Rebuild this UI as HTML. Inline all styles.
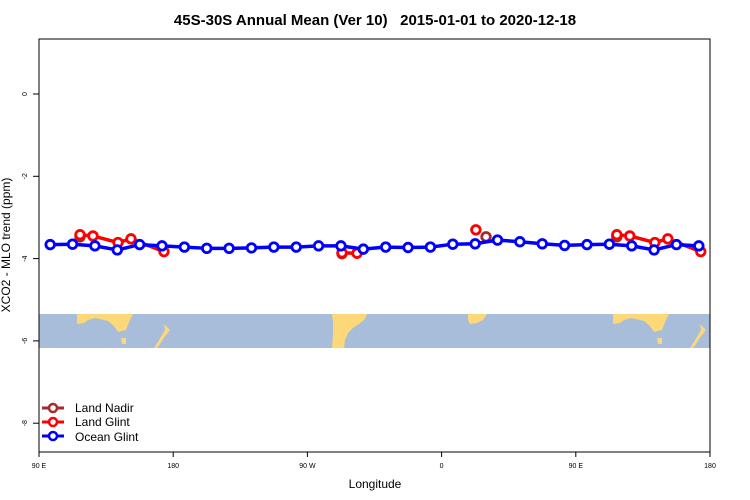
<!DOCTYPE html>
<html><head><meta charset="utf-8"><style>
body{margin:0;background:#fff;}
svg{display:block;font-family:"Liberation Sans",sans-serif;}
</style></head><body>
<svg id="chart" width="750" height="500" viewBox="0 0 750 500">
<rect width="750" height="500" fill="#fff"/>
<text x="375" y="25" text-anchor="middle" font-size="15" font-weight="bold" style="white-space:pre" xml:space="preserve">45S-30S Annual Mean (Ver 10)   2015-01-01 to 2020-12-18</text>
<g id="map"></g>
<g id="axes"></g>
<g id="series"></g>
<rect x="39" y="39" width="671" height="413" fill="none" stroke="#000" stroke-width="1"/>
<text x="375" y="488" text-anchor="middle" font-size="12">Longitude</text>
<text transform="translate(10,245) rotate(-90)" text-anchor="middle" font-size="12">XCO2 - MLO trend (ppm)</text>
<g>
 <g><line x1="42" y1="408" x2="64" y2="408" stroke="#a52a2a" stroke-width="3"/><circle cx="53" cy="408" r="4" fill="#fff" stroke="#a52a2a" stroke-width="2.5"/><text x="75" y="412" font-size="12">Land Nadir</text></g>
 <g><line x1="42" y1="422" x2="64" y2="422" stroke="#ff0000" stroke-width="3"/><circle cx="53" cy="422" r="4" fill="#fff" stroke="#ff0000" stroke-width="2.5"/><text x="75" y="426" font-size="12">Land Glint</text></g>
 <g><line x1="42" y1="436" x2="64" y2="436" stroke="#0000ff" stroke-width="3"/><circle cx="53" cy="436" r="4" fill="#fff" stroke="#0000ff" stroke-width="2.5"/><text x="75" y="441" font-size="12">Ocean Glint</text></g>
</g>
</svg>
<script>
const xTickLons = [90, 180, 270, 360, 450, 540];
const xTickLabels = ["90 E", "180", "90 W", "0", "90 E", "180"];
const yTicks = [0, -2, -4, -6, -8];
const oceanLon = [97.5,112.5,127.5,142.5,157.5,172.5,187.5,202.5,217.5,232.5,247.5,262.5,277.5,292.5,307.5,322.5,337.5,352.5,7.5,22.5,37.5,52.5,67.5,82.5];
const oceanVal = [-3.66,-3.65,-3.69,-3.79,-3.66,-3.69,-3.72,-3.75,-3.75,-3.74,-3.72,-3.72,-3.69,-3.69,-3.77,-3.72,-3.73,-3.72,-3.65,-3.64,-3.55,-3.59,-3.64,-3.68];
const glintLon = [117.5,126.2,143,151.7,173.8,293.2,303.3,23];
const glintVal = [-3.42,-3.45,-3.61,-3.52,-3.83,-3.86,-3.87,-3.30];
const nadirLon = [117.5,293.2,29.8];
const nadirVal = [-3.47,-3.88,-3.47];

const NS='http://www.w3.org/2000/svg';
const X0=39,X1=710,LMIN=90,LMAX=540;
function xs(l){return X0+(l-LMIN)*(X1-X0)/(LMAX-LMIN);}
function ys(v){return 94 - v*41.15;}
function mk(tag,attrs,parent){const e=document.createElementNS(NS,tag);for(const k in attrs)e.setAttribute(k,attrs[k]);parent.appendChild(e);return e;}

const map=document.getElementById('map');
mk('rect',{x:39,y:314,width:671,height:34,fill:'#a8bdda'},map);
function land(off){
  const shapes=[
    "77,314 133,314 130,320 126,330 118,332 114,326 108,321 100,319 95,318 88,320 84,323 77,324",
    "121,338 126,338 126,344 122,344",
    "164,324 167,327 170,330 167,334 163,339 160,344 157,348 154,348 158,342 162,335 165,330",
    "332,314 367,314 365,319 359,324 353,328 348,333 345,340 344,348 332,348 333,335 333,322",
    "468,314 487,314 483,320 477,323 470,324 468,320"
  ];
  shapes.forEach(p=>{const pts=p.split(' ').map(s=>{const [a,b]=s.split(',');return (Math.min(+a+off,710))+','+b;}).join(' ');mk('polygon',{points:pts,fill:'#fdd878'},map);});
}
land(0);land(536);

const ax=document.getElementById('axes');
xTickLons.forEach((l,i)=>{
  const t=mk('line',{x1:xs(l),y1:452,x2:xs(l),y2:457,stroke:'#000'},ax);
  
  
  const tx=mk('text',{x:xs(l),y:468,'text-anchor':'middle','font-size':'7'},ax);
  
  
  tx.textContent=xTickLabels[i];
});
yTicks.forEach(v=>{
  const t=mk('line',{x1:33,y1:ys(v),x2:39,y2:ys(v),stroke:'#000'},ax);
  
  
  const tx=mk('text',{transform:`translate(27,${ys(v)}) rotate(-90)`,'text-anchor':'middle','font-size':'7'},ax);
  
  
  tx.textContent=String(v);
});

const sg=document.getElementById('series');
function expand(lons,vals){
  let pts=[];
  lons.forEach((l,i)=>{let L=l<90?l+360:l;pts.push([L,vals[i]]);if(L+360<=LMAX)pts.push([L+360,vals[i]]);});
  pts.sort((a,b)=>a[0]-b[0]);return pts;
}
function draw(lons,vals,color,name,gap){
  const pts=expand(lons,vals);
  let segs=[[]];
  pts.forEach((p,i)=>{if(i>0&&p[0]-pts[i-1][0]>gap)segs.push([]);segs[segs.length-1].push(p);});
  segs.forEach(s=>{if(s.length>1){const pl=mk('polyline',{points:s.map(p=>xs(p[0])+','+ys(p[1])).join(' '),fill:'none',stroke:color,'stroke-width':3.5,'stroke-linejoin':'round'},sg);
    
    }});
  pts.forEach(p=>{const c=mk('circle',{cx:xs(p[0]),cy:ys(p[1]),r:4.3,fill:'#fff',stroke:color,'stroke-width':2.8},sg);
    
    });
}
draw(nadirLon,nadirVal,'#a52a2a','land-nadir',40);
draw(glintLon,glintVal,'#ff0000','land-glint',40);
draw(oceanLon,oceanVal,'#0000ff','ocean-glint',20);
</script>
</body></html>
